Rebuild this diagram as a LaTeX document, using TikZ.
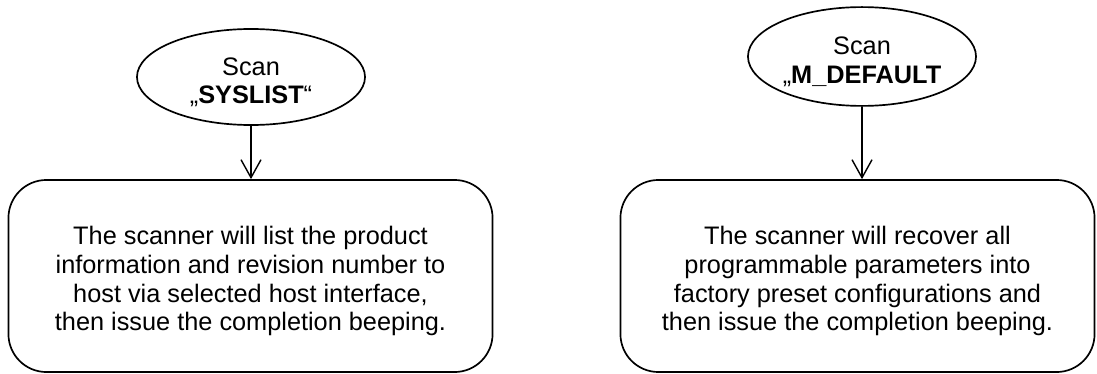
\documentclass[tikz,border=0pt]{standalone}
\usepackage{fontspec}
\setmainfont{Liberation Sans}
\usetikzlibrary{shapes.geometric,arrows.meta}

\begin{document}
\begin{tikzpicture}[x=0.025cm, y=-0.025cm,
    scanbubble/.style={ellipse, draw, line width=1.2pt, minimum width=5.7cm, minimum height=2.4cm},
    infobox/.style={draw, line width=1.2pt, rounded corners=0.95cm, minimum height=4.8cm},
    shifttext/.style={align=center, yshift=-0.13cm, font=\fontsize{18}{20.5}\selectfont},
    flow/.style={-{Straight Barb[length=0.45cm, width=0.5cm]}, line width=1pt}]
    \useasboundingbox (0,0) rectangle (1097,374);

    % Scan commands
    \node[scanbubble, label={[shifttext]center:{Scan\\„\textbf{SYSLIST}“}}] (syslist) at (251,77) {};
    \node[scanbubble, minimum height=2.47cm,
        label={[shifttext]center:{Scan\\„\textbf{M\_DEFAULT}}}] (mdefault) at (862,56.5) {};

    % What the scanner does
    \node[infobox, minimum width=12.1cm,
        label={[shifttext]center:{The scanner will list the product\\information and revision number to\\host via selected host interface,\\then issue the completion beeping.}}]
        (listinfo) at (250.5,276) {};
    \node[infobox, minimum width=11.85cm,
        label={[shifttext]center:{The scanner will recover all\\programmable parameters into\\factory preset configurations and\\then issue the completion beeping.}}]
        (recover) at (857.5,276) {};

    % Arrows
    \draw[flow] (syslist.south) -- (syslist.south |- listinfo.north);
    \draw[flow] (mdefault.south) -- (mdefault.south |- recover.north);
\end{tikzpicture}
\end{document}
